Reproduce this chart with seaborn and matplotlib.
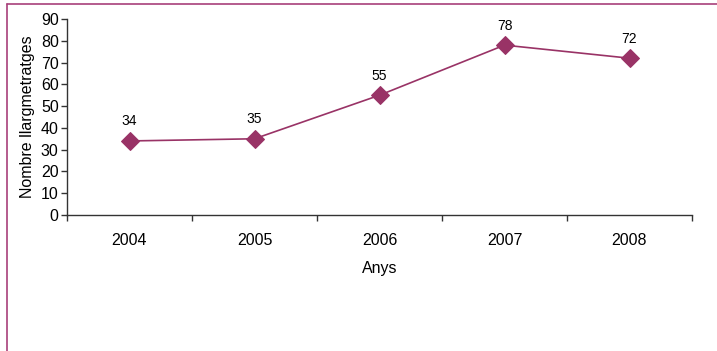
import matplotlib
matplotlib.use("Agg")
import matplotlib.pyplot as plt
from matplotlib.lines import Line2D
import seaborn as sns
import pandas as pd
import numpy as np

years = ["2004", "2005", "2006", "2007", "2008"]
values = [34, 35, 55, 78, 72]
labels = ["34", "35", "55", "78", "72"]

sns.set_style("white")
plt.rcParams['font.family'] = ['Liberation Sans', 'DejaVu Sans']

df = pd.DataFrame({"pos": np.arange(len(years)), "val": values})

fig = plt.figure(figsize=(7.17, 3.51), dpi=100)
ax = fig.add_axes([67/717, 1-215/351, (692-67)/717, (215-19)/351])

color = "#993366"
sns.lineplot(data=df, x="pos", y="val", ax=ax, color=color, linewidth=1.2,
             marker="D", markersize=9, markeredgecolor=color, markerfacecolor=color)

for i, (v, t) in enumerate(zip(values, labels)):
    ax.annotate(t, (i, v), xytext=(0, 9), textcoords="offset points",
                ha="center", va="bottom", fontsize=10, color="black")

ax.set_xlim(-0.5, len(years) - 0.5)
ax.set_ylim(0, 90)
ax.set_yticks(range(0, 91, 10))
ax.set_xticks(np.arange(len(years)))
ax.set_xticklabels(years)
ax.set_xticks(np.arange(-0.5, len(years)), minor=True)
ax.tick_params(axis="x", which="major", bottom=True, length=0, labelsize=11.5, pad=13, labelcolor="black")
ax.tick_params(axis="x", which="minor", bottom=True, length=4, width=1, color="#333333", direction="out")
ax.tick_params(axis="y", which="major", left=True, length=4, width=1, color="#333333", direction="out",
               labelsize=11.5, pad=2, labelcolor="black")

for s in ["top", "right"]:
    ax.spines[s].set_visible(False)
for s in ["left", "bottom"]:
    ax.spines[s].set_color("#333333")
    ax.spines[s].set_linewidth(1)

ax.set_xlabel("Anys", fontsize=11.5, labelpad=9, color="black")
ax.set_ylabel("Nombre llargmetratges", fontsize=11.5, labelpad=4, color="black")

border = "#A8407A"
fig.add_artist(Line2D([7/717, 1], [1-4/351, 1-4/351], transform=fig.transFigure, color=border, linewidth=1.2))
fig.add_artist(Line2D([7/717, 7/717], [0, 1-4/351], transform=fig.transFigure, color=border, linewidth=1.2))

fig.savefig("out.png", dpi=100)
